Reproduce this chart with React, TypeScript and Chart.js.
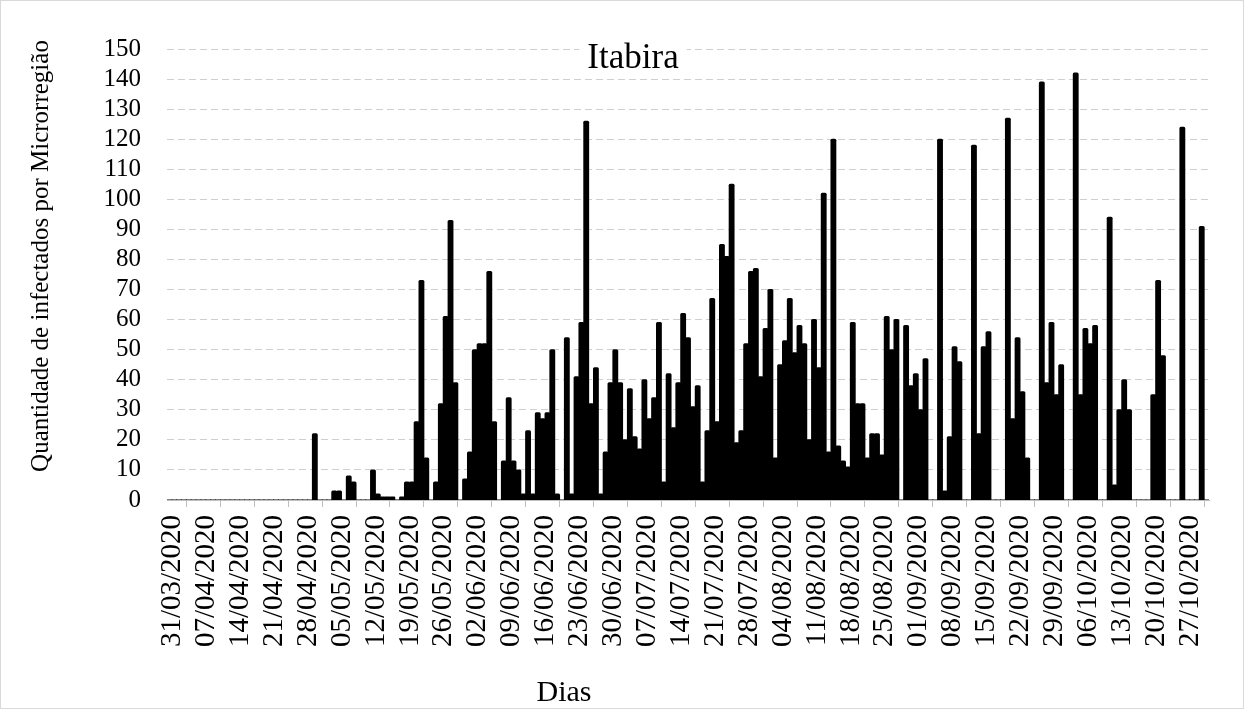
import { useEffect, useRef } from "react";
import { Chart, registerables } from "chart.js";

Chart.register(...registerables);

// Daily categories: 31/03/2020 .. 31/10/2020
const FIRST_DAY = { year: 2020, month: 3, day: 31 };
const DAY_COUNT = 215;
const pad2 = (n: number) => (n < 10 ? "0" + n : String(n));
const categories: string[] = Array.from({ length: DAY_COUNT }, (_, i) => {
  const d = new Date(FIRST_DAY.year, FIRST_DAY.month - 1, FIRST_DAY.day + i);
  return `${pad2(d.getDate())}/${pad2(d.getMonth() + 1)}/${d.getFullYear()}`;
});

// New infected per day
const infected: number[] = [
  // 31/03 - 29/04
  0, 0, 0, 0, 0, 0, 0, 0, 0, 0,
  0, 0, 0, 0, 0, 0, 0, 0, 0, 0,
  0, 0, 0, 0, 0, 0, 0, 0, 0, 0,
  // 30/04 ..
  22, 0, 0, 0, 3, 3, 0, 8, 6, 0,
  0, 0, 10, 2, 1, 1, 1, 0, 1, 6,
  6, 26, 73, 14, 0, 6, 32, 61, 93, 39,
  0, 7, 16, 50, 52, 52, 76, 26, 0, 13,
  34, 13, 10, 2, 23, 2, 29, 27, 29, 50,
  2, 0, 54, 2, 41, 59, 126, 32, 44, 2,
  16, 39, 50, 39, 20, 37, 21, 17, 40, 27,
  34, 59, 6, 42, 24, 39, 62, 54, 31, 38,
  6, 23, 67, 26, 85, 81, 105, 19, 23, 52,
  76, 77, 41, 57, 70, 14, 45, 53, 67, 49,
  58, 52, 20, 60, 44, 102, 16, 120, 18, 13,
  11, 59, 32, 32, 14, 22, 22, 15, 61, 50,
  60, 0, 58, 38, 42, 30, 47, 0, 0, 120,
  3, 21, 51, 46, 0, 0, 118, 22, 51, 56,
  0, 0, 0, 127, 27, 54, 36, 14, 0, 0,
  139, 39, 59, 35, 45, 0, 0, 142, 35, 57,
  52, 58, 0, 0, 94, 5, 30, 40, 30, 0,
  0, 0, 0, 35, 73, 48, 0, 0, 0, 124,
  0, 0, 0, 91, 0,
];

const TICK_EVERY = 7;
const Y_MIN = 0;
const Y_MAX = 150;
const Y_STEP = 10;

const TITLE = "Itabira";
const X_TITLE = "Dias";
const Y_TITLE = "Quantidade de infectados por Microrregião";

const FONT = "'Liberation Serif', 'DejaVu Serif', serif";
const TEXT_COLOR = "#000000";

const textPlugin = {
  id: "textPlugin",
  afterDraw(chart: any) {
    const { ctx } = chart;
    ctx.save();
    // main title with white background
    ctx.font = `35px ${FONT}`;
    ctx.textAlign = "center";
    ctx.textBaseline = "middle";
    const tx = 632;
    const ty = 58;
    const w = ctx.measureText(TITLE).width;
    ctx.fillStyle = "#ffffff";
    ctx.fillRect(tx - w / 2 - 8, ty - 18, w + 16, 36);
    ctx.fillStyle = TEXT_COLOR;
    ctx.fillText(TITLE, tx, ty);

    // x title
    ctx.font = `30px ${FONT}`;
    ctx.fillText(X_TITLE, 563, 692);

    // y title
    ctx.translate(40, 255);
    ctx.rotate(-Math.PI / 2);
    ctx.font = `25px ${FONT}`;
    ctx.fillText(Y_TITLE, 0, 0);
    ctx.restore();
  },
};

export default function App() {
  const canvasRef = useRef<HTMLCanvasElement | null>(null);

  useEffect(() => {
    document.body.style.margin = "0";
    const canvas = canvasRef.current;
    if (!canvas) return;
    const chart = new Chart(canvas, {
      type: "bar",
      data: {
        labels: categories,
        datasets: [
          {
            label: "Infectados",
            data: infected,
            backgroundColor: "#000000",
            borderWidth: 0,
            barPercentage: 1,
            categoryPercentage: 1,
            inflateAmount: 0.5,
            borderRadius: 1.5,
          },
        ],
      },
      options: {
        responsive: false,
        animation: false,
        maintainAspectRatio: false,
        layout: { padding: { left: 0, right: 34, top: 48, bottom: 0 } },
        plugins: {
          legend: { display: false },
          title: { display: false },
          tooltip: { enabled: false },
        },
        scales: {
          x: {
            type: "category",
            offset: true,
            afterFit: (scale: any) => {
              scale.height = 208;
            },
            grid: {
              display: true,
              offset: true,
              drawOnChartArea: false,
              drawTicks: true,
              tickLength: 7,
              color: "#bfbfbf",
              lineWidth: 1,
            },
            border: { display: true, color: "#bfbfbf", width: 1 },
            ticks: {
              autoSkip: false,
              minRotation: 90,
              maxRotation: 90,
              padding: 8,
              labelOffset: 3,
              color: TEXT_COLOR,
              font: { family: FONT, size: 29 },
              callback: function (this: any, value: any, index: number) {
                return index % TICK_EVERY === 0 ? this.getLabelForValue(value) : null;
              },
            },
          },
          y: {
            min: Y_MIN,
            max: Y_MAX,
            afterFit: (scale: any) => {
              scale.width = 166;
            },
            grid: {
              color: "#cfcfcf",
              lineWidth: 1,
              drawTicks: false,
            },
            border: { display: false, dash: [7, 4] },
            ticks: {
              autoSkip: false,
              stepSize: Y_STEP,
              padding: 26,
              color: TEXT_COLOR,
              font: { family: FONT, size: 25 },
            },
          },
        },
      },
      plugins: [textPlugin],
    });
    return () => chart.destroy();
  }, []);

  return (
    <div
      style={{
        position: "relative",
        width: 1244,
        height: 709,
        boxSizing: "border-box",
        border: "1px solid #d9d9d9",
        background: "#ffffff",
        overflow: "hidden",
      }}
    >
      <canvas
        ref={canvasRef}
        width={1242}
        height={707}
        style={{ display: "block", width: 1242, height: 707 }}
      />
    </div>
  );
}
